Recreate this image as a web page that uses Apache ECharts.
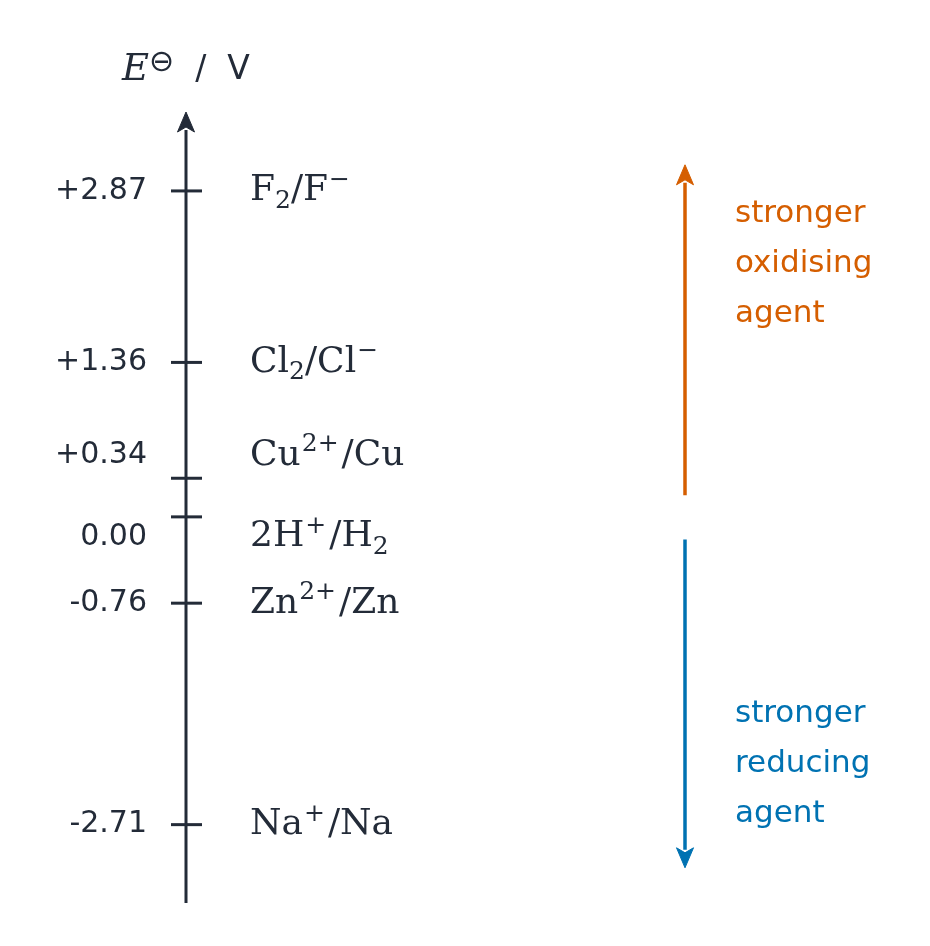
<!DOCTYPE html>
<html>
<head>
<meta charset="utf-8">
<script src="https://cdn.jsdelivr.net/npm/echarts@6/dist/echarts.min.js"></script>
<style>html,body{margin:0;padding:0;background:#fff}#c{width:930px;height:946px}</style>
</head>
<body>
<div id="c"></div>
<script>
// ---- data ----
const potentials = [2.87, 1.36, 0.34, 0.00, -0.76, -2.71];
const couples = [
  'F{sub|2}/F{sup|−}',
  'Cl{sub|2}/Cl{sup|−}',
  'Cu{sup|2+}/Cu',
  '2H{sup|+}/H{sub|2}',
  'Zn{sup|2+}/Zn',
  'Na{sup|+}/Na'
];
const axisRange = [-3.40, 3.565];          // visible extent of the E axis (V), arrow tip at top
const oxidisingArrow = [0.19, 3.10];        // from, to (V)
const reducingArrow = [-0.20, -3.09];       // from, to (V)
const oxidisingText = ['stronger', 'oxidising', 'agent'];
const reducingText = ['stronger', 'reducing', 'agent'];

// ---- layout / style (not data) ----
const labelNudge = [0, 0, -23, 20, 0, 0];   // px shift of labels to avoid overlap
const INK = '#232b38';
const ORANGE = '#d55e00';
const BLUE = '#0072b2';

function fmt(v) {
  return v > 0 ? '+' + v.toFixed(2) : v.toFixed(2);
}

// arrow renderer: line from value a to value b at x, with stealth head at b
function arrowRenderer(color, width, headLen, headHalf, notch) {
  return function (params, api) {
    const x = api.value(0);
    const p1 = api.coord([x, api.value(1)]);
    const p2 = api.coord([x, api.value(2)]);
    const dx = p2[0] - p1[0], dy = p2[1] - p1[1];
    const L = Math.sqrt(dx * dx + dy * dy) || 1;
    const ux = dx / L, uy = dy / L;
    const nx = -uy, ny = ux;
    const end = [p2[0] - ux * (headLen - 2), p2[1] - uy * (headLen - 2)];
    return {
      type: 'group',
      children: [
        {
          type: 'line',
          shape: { x1: p1[0], y1: p1[1], x2: end[0], y2: end[1] },
          style: { stroke: color, lineWidth: width, lineCap: 'butt' }
        },
        {
          type: 'polygon',
          shape: {
            points: [
              [p2[0], p2[1]],
              [p2[0] - ux * headLen + nx * headHalf, p2[1] - uy * headLen + ny * headHalf],
              [p2[0] - ux * (headLen - notch), p2[1] - uy * (headLen - notch)],
              [p2[0] - ux * headLen - nx * headHalf, p2[1] - uy * headLen - ny * headHalf]
            ]
          },
          style: { fill: color, stroke: color, lineWidth: 1, lineJoin: 'round' }
        }
      ]
    };
  };
}

const chart = echarts.init(document.getElementById('c'), null, { renderer: 'canvas' });

const serifRich = {
  base: { fontFamily: 'DejaVu Serif', fontSize: 36, color: INK, lineHeight: 46 },
  sub: { fontFamily: 'DejaVu Serif', fontSize: 25, color: INK, verticalAlign: 'bottom', lineHeight: 32 },
  sup: { fontFamily: 'DejaVu Serif', fontSize: 25, color: INK, verticalAlign: 'top', lineHeight: 27, padding: [0, 3, 0, 1] }
};

chart.setOption({
  backgroundColor: '#ffffff',
  animation: false,
  grid: { left: 186, top: 112, bottom: 43, width: 499 },
  xAxis: { type: 'value', min: 0, max: 1, show: false },
  yAxis: {
    type: 'value',
    min: axisRange[0],
    max: axisRange[1],
    name: '{e|E}{s|⊖}{t|  /  V}',
    nameLocation: 'end',
    nameGap: 20,
    nameTextStyle: {
      rich: {
        e: { fontFamily: 'DejaVu Serif', fontStyle: 'italic', fontSize: 37, color: INK, lineHeight: 44 },
        s: { fontFamily: 'DejaVu Sans', fontSize: 30, color: INK, verticalAlign: 'top', lineHeight: 22 },
        t: { fontFamily: 'DejaVu Sans', fontSize: 33, color: INK, lineHeight: 44 }
      }
    },
    axisLine: { show: false },
    axisTick: { show: false },
    axisLabel: { show: false },
    splitLine: { show: false }
  },
  series: [
    {
      // the E axis itself with its arrow head
      type: 'custom',
      coordinateSystem: 'cartesian2d',
      clip: false,
      data: [[0, axisRange[0], axisRange[1]]],
      encode: { x: 0, y: [1, 2] },
      renderItem: arrowRenderer(INK, 3, 20, 8.5, 5)
    },
    {
      type: 'custom',
      coordinateSystem: 'cartesian2d',
      clip: false,
      data: potentials.map((v, i) => [0, v, i]),
      encode: { x: 0, y: 1 },
      renderItem: function (params, api) {
        const v = api.value(1);
        const i = api.value(2);
        const p = api.coord([0, v]);
        const ny = p[1] + labelNudge[i];
        return {
          type: 'group',
          children: [
            {
              type: 'line',
              shape: { x1: p[0] - 15, y1: p[1], x2: p[0] + 16, y2: p[1] },
              style: { stroke: INK, lineWidth: 3 }
            },
            {
              type: 'text',
              x: p[0] - 39, y: ny,
              style: {
                text: fmt(v),
                align: 'right', verticalAlign: 'middle',
                fontFamily: 'DejaVu Sans', fontSize: 30, fill: INK
              }
            },
            {
              type: 'text',
              x: p[0] + 64, y: ny,
              style: {
                text: couples[i].replace(/^([^{]+)/, '{base|$1}').replace(/\}([^{]+)/g, '}{base|$1}'),
                align: 'left', verticalAlign: 'middle',
                rich: serifRich,
                fontFamily: 'DejaVu Serif', fontSize: 36, fill: INK
              }
            }
          ]
        };
      }
    },
    {
      type: 'custom',
      coordinateSystem: 'cartesian2d',
      clip: false,
      data: [[1, oxidisingArrow[0], oxidisingArrow[1]]],
      encode: { x: 0, y: [1, 2] },
      renderItem: arrowRenderer(ORANGE, 3.5, 20, 8.5, 5)
    },
    {
      type: 'custom',
      coordinateSystem: 'cartesian2d',
      clip: false,
      data: [[1, reducingArrow[0], reducingArrow[1]]],
      encode: { x: 0, y: [1, 2] },
      renderItem: arrowRenderer(BLUE, 3.5, 20, 8.5, 5)
    }
  ],
  graphic: [
    {
      type: 'text', left: 735, top: 189,
      style: { text: oxidisingText.join('\n'), fontFamily: 'DejaVu Sans', fontSize: 31, lineHeight: 50, fill: ORANGE }
    },
    {
      type: 'text', left: 735, top: 689,
      style: { text: reducingText.join('\n'), fontFamily: 'DejaVu Sans', fontSize: 31, lineHeight: 50, fill: BLUE }
    }
  ]
});
</script>
</body>
</html>
